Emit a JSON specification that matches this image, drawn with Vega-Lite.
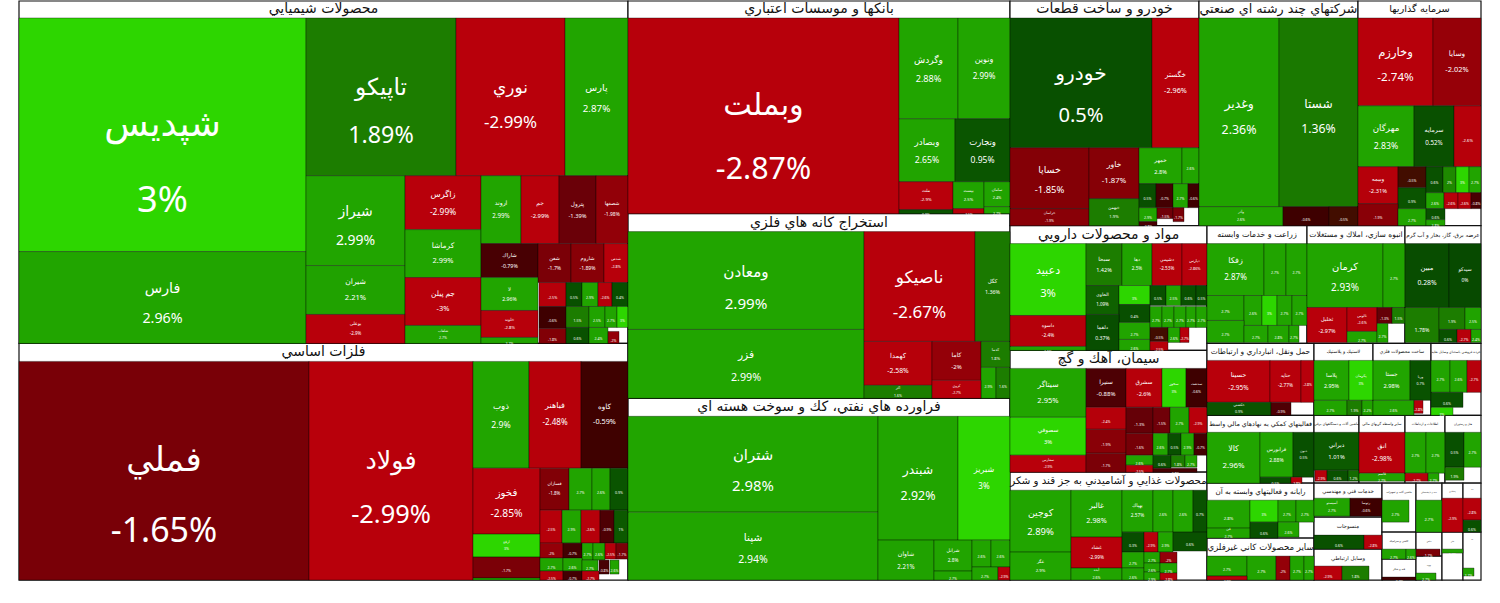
{
"$schema":"https://vega.github.io/schema/vega-lite/v6.json",
"width":1500,"height":603,
"autosize":{"type":"fit","contains":"padding"},
"padding":0,
"background":"#ffffff",
"config":{"view":{"stroke":null}},
"datasets":{
"panels":[
{"t":"محصولات شيميايي","x0":19,"x1":628,"y0":0,"yh":17,"y1":343},
{"t":"فلزات اساسي","x0":19,"x1":628,"y0":343,"yh":361,"y1":580},
{"t":"بانكها و موسسات اعتباري","x0":628,"x1":1010,"y0":0,"yh":17,"y1":213},
{"t":"استخراج كانه هاي فلزي","x0":628,"x1":1010,"y0":213,"yh":231,"y1":398},
{"t":"فراورده هاي نفتي، كك و سوخت هسته اي","x0":628,"x1":1010,"y0":398,"yh":416,"y1":580},
{"t":"خودرو و ساخت قطعات","x0":1010,"x1":1199,"y0":0,"yh":17,"y1":225},
{"t":"شركتهاي چند رشته اي صنعتي","x0":1199,"x1":1358,"y0":0,"yh":17,"y1":225},
{"t":"سرمايه گذاريها","x0":1358,"x1":1481,"y0":0,"yh":17,"y1":225},
{"t":"مواد و محصولات دارويي","x0":1010,"x1":1207,"y0":225,"yh":243,"y1":350},
{"t":"سيمان، آهك و گچ","x0":1010,"x1":1207,"y0":350,"yh":368,"y1":472},
{"t":"محصولات غذايي و آشاميدني به جز قند و شكر","x0":1010,"x1":1207,"y0":472,"yh":490,"y1":580},
{"t":"زراعت و خدمات وابسته","x0":1207,"x1":1307,"y0":225,"yh":243,"y1":343},
{"t":"انبوه سازي، املاك و مستغلات","x0":1307,"x1":1405,"y0":225,"yh":243,"y1":343},
{"t":"عرضه برق، گاز، بخار و آب گرم","x0":1405,"x1":1481,"y0":225,"yh":243,"y1":343},
{"t":"حمل ونقل، انبارداري و ارتباطات","x0":1207,"x1":1314,"y0":343,"yh":360,"y1":415},
{"t":"لاستيك و پلاستيك","x0":1314,"x1":1373,"y0":343,"yh":360,"y1":415},
{"t":"ساخت محصولات فلزي","x0":1373,"x1":1431,"y0":343,"yh":360,"y1":415},
{"t":"خرده فروشي باستثناي وسايل نقليه","x0":1431,"x1":1481,"y0":343,"yh":360,"y1":415},
{"t":"فعاليتهاي كمكي به نهادهاي مالي واسط","x0":1207,"x1":1314,"y0":415,"yh":432,"y1":483},
{"t":"ماشين آلات و دستگاههاي برقي","x0":1314,"x1":1359,"y0":415,"yh":432,"y1":483},
{"t":"ساير واسطه گريهاي مالي","x0":1359,"x1":1405,"y0":415,"yh":432,"y1":483},
{"t":"اطلاعات و ارتباطات","x0":1405,"x1":1445,"y0":415,"yh":432,"y1":483},
{"t":"هتل و رستوران","x0":1445,"x1":1481,"y0":415,"yh":432,"y1":483},
{"t":"رايانه و فعاليتهاي وابسته به آن","x0":1207,"x1":1314,"y0":483,"yh":500,"y1":538},
{"t":"ساير محصولات كاني غيرفلزي","x0":1207,"x1":1314,"y0":538,"yh":556,"y1":580},
{"t":"خدمات فني و مهندسي","x0":1314,"x1":1382,"y0":483,"yh":498,"y1":517},
{"t":"منسوجات","x0":1314,"x1":1382,"y0":517,"yh":535,"y1":549},
{"t":"وسايل ارتباطي","x0":1314,"x1":1382,"y0":549,"yh":566,"y1":580},
{"t":"ماشين آلات و تجهيزات","x0":1382,"x1":1416,"y0":483,"yh":500,"y1":532},
{"t":"كاشي و سراميك","x0":1382,"x1":1416,"y0":532,"yh":549,"y1":559},
{"t":"قند و شكر","x0":1382,"x1":1416,"y0":559,"yh":577,"y1":580},
{"t":"بيمه و بازنشستگي","x0":1416,"x1":1442,"y0":483,"yh":500,"y1":532},
{"t":"دباغي","x0":1416,"x1":1442,"y0":532,"yh":549,"y1":556},
{"t":"چوب","x0":1416,"x1":1442,"y0":556,"yh":573,"y1":580},
{"t":"پيمانكاري","x0":1442,"x1":1463,"y0":483,"yh":498,"y1":532},
{"t":"مالي","x0":1442,"x1":1463,"y0":532,"yh":549,"y1":580},
{"t":"كاغذ","x0":1463,"x1":1481,"y0":483,"yh":498,"y1":532},
{"t":"نشر","x0":1463,"x1":1481,"y0":532,"yh":549,"y1":580}
],
"cells":[
{"n":"شپديس","p":3,"x0":19,"x1":306,"y0":17,"y1":251},
{"n":"فارس","p":2.96,"x0":19,"x1":306,"y0":251,"y1":343},
{"n":"تاپيكو","p":1.89,"x0":306,"x1":456,"y0":17,"y1":175},
{"n":"نوري","p":-2.99,"x0":456,"x1":565,"y0":17,"y1":175},
{"n":"پارس","p":2.87,"x0":565,"x1":628,"y0":17,"y1":175},
{"n":"شيراز","p":2.99,"x0":306,"x1":405,"y0":175,"y1":265},
{"n":"شيران","p":2.21,"x0":306,"x1":405,"y0":265,"y1":314},
{"n":"بوعلي","p":-2.9,"x0":306,"x1":405,"y0":314,"y1":343},
{"n":"زاگرس","p":-2.99,"x0":405,"x1":481,"y0":175,"y1":229},
{"n":"كرماشا","p":2.99,"x0":405,"x1":481,"y0":229,"y1":277},
{"n":"جم پيلن","p":-3,"x0":405,"x1":481,"y0":277,"y1":325},
{"n":"شلعاب","p":2.7,"x0":405,"x1":481,"y0":325,"y1":343},
{"n":"اروند","p":2.99,"x0":481,"x1":521,"y0":175,"y1":243},
{"n":"جم","p":-2.99,"x0":521,"x1":559,"y0":175,"y1":243},
{"n":"پترول","p":-1.39,"x0":559,"x1":596,"y0":175,"y1":243},
{"n":"شصفها","p":-1.98,"x0":596,"x1":628,"y0":175,"y1":243},
{"n":"شاراك","p":-0.79,"x0":481,"x1":538,"y0":243,"y1":277},
{"n":"شفن","p":-1.7,"x0":538,"x1":571,"y0":243,"y1":282},
{"n":"شاروم","p":-1.89,"x0":571,"x1":604,"y0":243,"y1":282},
{"n":"شدص","p":-2.8,"x0":604,"x1":628,"y0":243,"y1":282},
{"n":"لا","p":2.96,"x0":481,"x1":538,"y0":277,"y1":310},
{"n":"خلوند","p":-2.8,"x0":481,"x1":538,"y0":310,"y1":337},
{"n":"","p":2.7,"x0":481,"x1":538,"y0":337,"y1":343},
{"n":"","p":-2.5,"x0":539,"x1":566,"y0":282,"y1":306},
{"n":"","p":0.5,"x0":566,"x1":582,"y0":282,"y1":306},
{"n":"","p":2.9,"x0":582,"x1":598,"y0":282,"y1":306},
{"n":"","p":-2.6,"x0":598,"x1":612,"y0":282,"y1":306},
{"n":"","p":0.4,"x0":612,"x1":628,"y0":282,"y1":306},
{"n":"","p":-0.6,"x0":539,"x1":566,"y0":306,"y1":328},
{"n":"","p":-1.8,"x0":539,"x1":566,"y0":328,"y1":343},
{"n":"","p":1.5,"x0":566,"x1":589,"y0":306,"y1":327},
{"n":"","p":2.5,"x0":589,"x1":605,"y0":306,"y1":327},
{"n":"","p":2.7,"x0":605,"x1":617,"y0":306,"y1":327},
{"n":"","p":3,"x0":617,"x1":628,"y0":306,"y1":327},
{"n":"","p":0.6,"x0":566,"x1":589,"y0":327,"y1":343},
{"n":"","p":2.4,"x0":589,"x1":608,"y0":327,"y1":343},
{"n":"","p":-2,"x0":608,"x1":619,"y0":331,"y1":343},
{"n":"فملي","p":-1.65,"x0":19,"x1":309,"y0":361,"y1":580},
{"n":"فولاد","p":-2.99,"x0":309,"x1":473,"y0":361,"y1":580},
{"n":"ذوب","p":2.9,"x0":473,"x1":529,"y0":361,"y1":468},
{"n":"فباهنر","p":-2.48,"x0":529,"x1":581,"y0":361,"y1":468},
{"n":"كاوه","p":-0.59,"x0":581,"x1":628,"y0":361,"y1":468},
{"n":"فخوز","p":-2.85,"x0":473,"x1":540,"y0":468,"y1":534},
{"n":"ارفع","p":3,"x0":473,"x1":540,"y0":534,"y1":557},
{"n":"","p":-1.7,"x0":473,"x1":540,"y0":557,"y1":578},
{"n":"","p":2.7,"x0":473,"x1":540,"y0":578,"y1":580},
{"n":"فسازان","p":-1.8,"x0":540,"x1":569,"y0":468,"y1":510},
{"n":"","p":2.7,"x0":569,"x1":592,"y0":468,"y1":510},
{"n":"","p":2.6,"x0":592,"x1":610,"y0":468,"y1":510},
{"n":"","p":0.9,"x0":610,"x1":628,"y0":468,"y1":510},
{"n":"","p":-2.5,"x0":540,"x1":562,"y0":510,"y1":543},
{"n":"","p":2.9,"x0":562,"x1":581,"y0":510,"y1":543},
{"n":"","p":-2.6,"x0":581,"x1":600,"y0":510,"y1":543},
{"n":"","p":-0.9,"x0":600,"x1":614,"y0":510,"y1":543},
{"n":"","p":1,"x0":614,"x1":628,"y0":510,"y1":543},
{"n":"","p":-2,"x0":540,"x1":563,"y0":543,"y1":558},
{"n":"","p":-0.7,"x0":563,"x1":582,"y0":543,"y1":558},
{"n":"","p":2.7,"x0":582,"x1":593,"y0":543,"y1":560},
{"n":"","p":2.6,"x0":593,"x1":605,"y0":543,"y1":560},
{"n":"","p":-2.5,"x0":605,"x1":616,"y0":543,"y1":559},
{"n":"","p":-1.7,"x0":616,"x1":628,"y0":543,"y1":559},
{"n":"","p":2.7,"x0":540,"x1":563,"y0":558,"y1":571},
{"n":"","p":2.6,"x0":563,"x1":582,"y0":558,"y1":571},
{"n":"","p":2.7,"x0":582,"x1":598,"y0":560,"y1":571},
{"n":"","p":-0.8,"x0":599,"x1":609,"y0":560,"y1":574},
{"n":"","p":2.6,"x0":610,"x1":619,"y0":560,"y1":574},
{"n":"","p":-2.5,"x0":540,"x1":563,"y0":571,"y1":580},
{"n":"","p":-0.7,"x0":563,"x1":582,"y0":571,"y1":580},
{"n":"","p":-2.7,"x0":582,"x1":599,"y0":571,"y1":580},
{"n":"وبملت","p":-2.87,"x0":628,"x1":899,"y0":17,"y1":213},
{"n":"وگردش","p":2.88,"x0":899,"x1":958,"y0":17,"y1":118},
{"n":"ونوين","p":2.99,"x0":958,"x1":1010,"y0":17,"y1":118},
{"n":"وبصادر","p":2.65,"x0":899,"x1":955,"y0":118,"y1":181},
{"n":"وتجارت","p":0.95,"x0":955,"x1":1010,"y0":118,"y1":181},
{"n":"ملت","p":-2.9,"x0":899,"x1":953,"y0":181,"y1":209},
{"n":"بپست","p":2.5,"x0":953,"x1":984,"y0":181,"y1":208},
{"n":"سامان","p":2.4,"x0":984,"x1":1010,"y0":181,"y1":206},
{"n":"","p":0.9,"x0":899,"x1":953,"y0":209,"y1":213},
{"n":"","p":-2.5,"x0":953,"x1":984,"y0":208,"y1":213},
{"n":"","p":2.7,"x0":984,"x1":1010,"y0":206,"y1":213},
{"n":"ومعادن","p":2.99,"x0":628,"x1":864,"y0":231,"y1":329},
{"n":"فزر","p":2.99,"x0":628,"x1":864,"y0":329,"y1":398},
{"n":"ناصيكو","p":-2.67,"x0":864,"x1":975,"y0":231,"y1":341},
{"n":"كگل","p":1.36,"x0":975,"x1":1010,"y0":231,"y1":341},
{"n":"كهمدا","p":-2.58,"x0":864,"x1":932,"y0":341,"y1":385},
{"n":"كاما","p":-2,"x0":932,"x1":981,"y0":341,"y1":380},
{"n":"كدما","p":1.8,"x0":981,"x1":1010,"y0":341,"y1":367},
{"n":"","p":2.9,"x0":981,"x1":996,"y0":367,"y1":398},
{"n":"","p":1.6,"x0":996,"x1":1010,"y0":367,"y1":398},
{"n":"اكر","p":1.6,"x0":864,"x1":932,"y0":385,"y1":398},
{"n":"كروي","p":-2.7,"x0":932,"x1":981,"y0":380,"y1":398},
{"n":"شتران","p":2.98,"x0":628,"x1":878,"y0":416,"y1":512},
{"n":"شپنا","p":2.94,"x0":628,"x1":878,"y0":512,"y1":580},
{"n":"شبندر","p":2.92,"x0":878,"x1":958,"y0":416,"y1":540},
{"n":"شبريز","p":3,"x0":958,"x1":1010,"y0":416,"y1":540},
{"n":"شاوان","p":2.21,"x0":878,"x1":934,"y0":540,"y1":580},
{"n":"شرانل","p":2.8,"x0":934,"x1":972,"y0":540,"y1":571},
{"n":"","p":2.7,"x0":934,"x1":972,"y0":571,"y1":580},
{"n":"","p":2.6,"x0":972,"x1":991,"y0":540,"y1":567},
{"n":"","p":2.6,"x0":991,"x1":1010,"y0":540,"y1":567},
{"n":"","p":2.7,"x0":972,"x1":998,"y0":567,"y1":580},
{"n":"","p":-2.9,"x0":998,"x1":1010,"y0":567,"y1":580},
{"n":"خودرو","p":0.5,"x0":1010,"x1":1152,"y0":17,"y1":147},
{"n":"خگستر","p":-2.96,"x0":1152,"x1":1199,"y0":17,"y1":147},
{"n":"خساپا","p":-1.85,"x0":1010,"x1":1089,"y0":147,"y1":208},
{"n":"خاور","p":-1.87,"x0":1089,"x1":1139,"y0":147,"y1":198},
{"n":"خراسان","p":-1.9,"x0":1010,"x1":1089,"y0":208,"y1":225},
{"n":"خبهمن","p":1.9,"x0":1089,"x1":1139,"y0":198,"y1":225},
{"n":"خمهر","p":2.8,"x0":1139,"x1":1182,"y0":147,"y1":183},
{"n":"","p":2.6,"x0":1182,"x1":1199,"y0":147,"y1":183},
{"n":"","p":0.5,"x0":1139,"x1":1156,"y0":183,"y1":207},
{"n":"","p":-0.7,"x0":1156,"x1":1173,"y0":183,"y1":207},
{"n":"","p":2.7,"x0":1173,"x1":1188,"y0":183,"y1":207},
{"n":"","p":-0.6,"x0":1188,"x1":1199,"y0":183,"y1":207},
{"n":"","p":2.9,"x0":1139,"x1":1157,"y0":207,"y1":221},
{"n":"","p":-1.5,"x0":1157,"x1":1173,"y0":207,"y1":218},
{"n":"","p":-1.7,"x0":1173,"x1":1184,"y0":207,"y1":221},
{"n":"","p":-0.8,"x0":1139,"x1":1157,"y0":221,"y1":225},
{"n":"وغدير","p":2.36,"x0":1199,"x1":1279,"y0":17,"y1":206},
{"n":"شستا","p":1.36,"x0":1279,"x1":1358,"y0":17,"y1":206},
{"n":"وآذر","p":2.6,"x0":1199,"x1":1283,"y0":206,"y1":225},
{"n":"","p":-0.6,"x0":1283,"x1":1329,"y0":206,"y1":225},
{"n":"","p":-0.5,"x0":1329,"x1":1358,"y0":206,"y1":225},
{"n":"وخارزم","p":-2.74,"x0":1358,"x1":1433,"y0":17,"y1":105},
{"n":"وسايا","p":-2.02,"x0":1433,"x1":1481,"y0":17,"y1":105},
{"n":"مهرگان","p":2.83,"x0":1358,"x1":1414,"y0":105,"y1":166},
{"n":"سرمايه","p":0.52,"x0":1414,"x1":1454,"y0":105,"y1":166},
{"n":"","p":-2.6,"x0":1454,"x1":1481,"y0":105,"y1":166},
{"n":"وبيمه","p":-2.31,"x0":1358,"x1":1398,"y0":166,"y1":203},
{"n":"","p":-0.5,"x0":1398,"x1":1426,"y0":166,"y1":187},
{"n":"","p":0.9,"x0":1398,"x1":1426,"y0":187,"y1":208},
{"n":"","p":0.6,"x0":1426,"x1":1443,"y0":166,"y1":192},
{"n":"","p":2,"x0":1443,"x1":1456,"y0":166,"y1":192},
{"n":"","p":3,"x0":1456,"x1":1469,"y0":166,"y1":192},
{"n":"","p":2.7,"x0":1469,"x1":1481,"y0":166,"y1":192},
{"n":"","p":2.6,"x0":1426,"x1":1444,"y0":192,"y1":208},
{"n":"","p":-2.6,"x0":1444,"x1":1458,"y0":192,"y1":208},
{"n":"","p":-2.6,"x0":1458,"x1":1471,"y0":192,"y1":208},
{"n":"","p":-0.8,"x0":1471,"x1":1481,"y0":192,"y1":208},
{"n":"","p":-1.9,"x0":1358,"x1":1398,"y0":203,"y1":225},
{"n":"","p":2.7,"x0":1398,"x1":1426,"y0":208,"y1":225},
{"n":"","p":0.6,"x0":1426,"x1":1445,"y0":208,"y1":219},
{"n":"","p":2.8,"x0":1426,"x1":1445,"y0":219,"y1":225},
{"n":"دعبيد","p":3,"x0":1010,"x1":1086,"y0":243,"y1":315},
{"n":"داسوه","p":-2.4,"x0":1010,"x1":1086,"y0":315,"y1":346},
{"n":"","p":2.6,"x0":1010,"x1":1086,"y0":346,"y1":350},
{"n":"سبحا","p":1.42,"x0":1086,"x1":1122,"y0":243,"y1":285},
{"n":"دها","p":2.5,"x0":1122,"x1":1152,"y0":243,"y1":285},
{"n":"دشيمي","p":-2.53,"x0":1152,"x1":1182,"y0":243,"y1":285},
{"n":"دپارس","p":-2.86,"x0":1182,"x1":1207,"y0":243,"y1":285},
{"n":"الحاوي","p":1.09,"x0":1086,"x1":1119,"y0":285,"y1":314},
{"n":"","p":3,"x0":1119,"x1":1150,"y0":285,"y1":304},
{"n":"","p":0.5,"x0":1150,"x1":1166,"y0":285,"y1":305},
{"n":"","p":2.5,"x0":1166,"x1":1181,"y0":285,"y1":305},
{"n":"","p":0.6,"x0":1181,"x1":1196,"y0":285,"y1":305},
{"n":"","p":0.5,"x0":1196,"x1":1207,"y0":285,"y1":305},
{"n":"","p":0.4,"x0":1119,"x1":1150,"y0":304,"y1":322},
{"n":"دلقما","p":0.37,"x0":1086,"x1":1119,"y0":314,"y1":350},
{"n":"","p":2.7,"x0":1119,"x1":1150,"y0":322,"y1":339},
{"n":"","p":2.6,"x0":1119,"x1":1150,"y0":339,"y1":350},
{"n":"","p":2.7,"x0":1150,"x1":1162,"y0":306,"y1":327},
{"n":"","p":2.7,"x0":1162,"x1":1174,"y0":306,"y1":327},
{"n":"","p":2.7,"x0":1174,"x1":1186,"y0":306,"y1":327},
{"n":"","p":2.7,"x0":1186,"x1":1196,"y0":306,"y1":327},
{"n":"","p":2.7,"x0":1196,"x1":1207,"y0":306,"y1":327},
{"n":"","p":-0.5,"x0":1150,"x1":1168,"y0":327,"y1":341},
{"n":"","p":2.6,"x0":1168,"x1":1180,"y0":327,"y1":342},
{"n":"","p":-2.7,"x0":1180,"x1":1189,"y0":327,"y1":342},
{"n":"","p":-2.5,"x0":1150,"x1":1168,"y0":341,"y1":350},
{"n":"سيتاگر","p":2.95,"x0":1010,"x1":1086,"y0":368,"y1":417},
{"n":"سصوفي","p":3,"x0":1010,"x1":1086,"y0":417,"y1":455},
{"n":"سفارس","p":-2.9,"x0":1010,"x1":1086,"y0":455,"y1":472},
{"n":"سنيرا","p":-0.88,"x0":1086,"x1":1126,"y0":368,"y1":407},
{"n":"سشرق","p":-2.6,"x0":1126,"x1":1162,"y0":368,"y1":407},
{"n":"سخوز","p":3,"x0":1162,"x1":1186,"y0":368,"y1":407},
{"n":"سدشت","p":-0.6,"x0":1186,"x1":1207,"y0":368,"y1":407},
{"n":"","p":-2.4,"x0":1086,"x1":1126,"y0":407,"y1":429},
{"n":"","p":-1.9,"x0":1086,"x1":1126,"y0":429,"y1":453},
{"n":"","p":-1.7,"x0":1086,"x1":1126,"y0":453,"y1":472},
{"n":"","p":-1.3,"x0":1126,"x1":1153,"y0":407,"y1":433},
{"n":"","p":-1.5,"x0":1153,"x1":1170,"y0":407,"y1":433},
{"n":"","p":2.7,"x0":1170,"x1":1189,"y0":407,"y1":433},
{"n":"","p":-2.9,"x0":1189,"x1":1207,"y0":407,"y1":433},
{"n":"","p":-1.6,"x0":1126,"x1":1153,"y0":433,"y1":455},
{"n":"","p":2.6,"x0":1153,"x1":1168,"y0":433,"y1":455},
{"n":"","p":0.5,"x0":1168,"x1":1181,"y0":433,"y1":455},
{"n":"","p":2.9,"x0":1181,"x1":1194,"y0":433,"y1":455},
{"n":"","p":-0.7,"x0":1194,"x1":1207,"y0":433,"y1":455},
{"n":"","p":2.6,"x0":1126,"x1":1153,"y0":455,"y1":465},
{"n":"","p":-2.5,"x0":1126,"x1":1153,"y0":465,"y1":472},
{"n":"","p":0.6,"x0":1153,"x1":1171,"y0":455,"y1":468},
{"n":"","p":1.8,"x0":1171,"x1":1185,"y0":455,"y1":467},
{"n":"","p":2.7,"x0":1185,"x1":1197,"y0":455,"y1":467},
{"n":"","p":-0.8,"x0":1153,"x1":1197,"y0":468,"y1":472},
{"n":"كوچين","p":2.89,"x0":1010,"x1":1071,"y0":490,"y1":552},
{"n":"غگر","p":2.9,"x0":1010,"x1":1071,"y0":552,"y1":580},
{"n":"غالبر","p":2.98,"x0":1071,"x1":1122,"y0":490,"y1":537},
{"n":"غشاد","p":-2.99,"x0":1071,"x1":1122,"y0":537,"y1":568},
{"n":"آبده","p":2.6,"x0":1071,"x1":1122,"y0":568,"y1":580},
{"n":"بهپاك","p":2.57,"x0":1122,"x1":1153,"y0":490,"y1":532},
{"n":"","p":2.6,"x0":1153,"x1":1173,"y0":490,"y1":532},
{"n":"","p":2.6,"x0":1173,"x1":1193,"y0":490,"y1":532},
{"n":"","p":0.7,"x0":1193,"x1":1207,"y0":490,"y1":532},
{"n":"","p":0.3,"x0":1122,"x1":1144,"y0":532,"y1":552},
{"n":"","p":-2.9,"x0":1144,"x1":1158,"y0":532,"y1":552},
{"n":"","p":2.9,"x0":1158,"x1":1173,"y0":532,"y1":552},
{"n":"","p":0.6,"x0":1173,"x1":1207,"y0":532,"y1":551},
{"n":"","p":2.7,"x0":1122,"x1":1144,"y0":552,"y1":568},
{"n":"","p":2.7,"x0":1144,"x1":1160,"y0":552,"y1":563},
{"n":"","p":-2,"x0":1160,"x1":1177,"y0":552,"y1":563},
{"n":"","p":2.6,"x0":1122,"x1":1144,"y0":568,"y1":580},
{"n":"","p":2.6,"x0":1144,"x1":1160,"y0":563,"y1":572},
{"n":"","p":2.7,"x0":1160,"x1":1177,"y0":563,"y1":573},
{"n":"","p":2.9,"x0":1144,"x1":1160,"y0":572,"y1":580},
{"n":"","p":-2.8,"x0":1160,"x1":1177,"y0":573,"y1":580},
{"n":"زفكا","p":2.87,"x0":1207,"x1":1264,"y0":243,"y1":295},
{"n":"","p":2.7,"x0":1264,"x1":1286,"y0":243,"y1":295},
{"n":"","p":2.7,"x0":1286,"x1":1307,"y0":243,"y1":295},
{"n":"","p":2.7,"x0":1207,"x1":1244,"y0":295,"y1":320},
{"n":"","p":2.6,"x0":1244,"x1":1262,"y0":295,"y1":325},
{"n":"","p":3,"x0":1262,"x1":1277,"y0":295,"y1":325},
{"n":"","p":2.7,"x0":1277,"x1":1292,"y0":295,"y1":325},
{"n":"","p":2.7,"x0":1292,"x1":1307,"y0":295,"y1":325},
{"n":"","p":2.7,"x0":1207,"x1":1244,"y0":320,"y1":342},
{"n":"","p":2.7,"x0":1244,"x1":1268,"y0":325,"y1":342},
{"n":"","p":2.8,"x0":1268,"x1":1289,"y0":325,"y1":342},
{"n":"","p":2.7,"x0":1289,"x1":1299,"y0":325,"y1":342},
{"n":"كرمان","p":2.93,"x0":1307,"x1":1383,"y0":243,"y1":307},
{"n":"","p":2.7,"x0":1383,"x1":1405,"y0":243,"y1":307},
{"n":"ثخليل","p":-2.97,"x0":1307,"x1":1347,"y0":307,"y1":342},
{"n":"ثالوس","p":-2.6,"x0":1347,"x1":1377,"y0":307,"y1":331},
{"n":"","p":2.7,"x0":1347,"x1":1377,"y0":331,"y1":342},
{"n":"","p":-1.3,"x0":1377,"x1":1392,"y0":307,"y1":323},
{"n":"","p":1.5,"x0":1392,"x1":1405,"y0":307,"y1":323},
{"n":"","p":2.7,"x0":1377,"x1":1388,"y0":323,"y1":342},
{"n":"مبين","p":0.28,"x0":1405,"x1":1449,"y0":243,"y1":307},
{"n":"سيدكو","p":0,"x0":1449,"x1":1481,"y0":243,"y1":307},
{"n":"","p":1.78,"x0":1405,"x1":1439,"y0":307,"y1":342},
{"n":"","p":1.9,"x0":1439,"x1":1465,"y0":307,"y1":329},
{"n":"","p":2.5,"x0":1465,"x1":1481,"y0":307,"y1":329},
{"n":"","p":0.6,"x0":1439,"x1":1457,"y0":329,"y1":342},
{"n":"","p":-2.7,"x0":1457,"x1":1471,"y0":329,"y1":342},
{"n":"","p":2.4,"x0":1471,"x1":1481,"y0":329,"y1":342},
{"n":"حسينا","p":-2.95,"x0":1207,"x1":1270,"y0":360,"y1":402},
{"n":"حتايد","p":-2.77,"x0":1270,"x1":1301,"y0":360,"y1":402},
{"n":"","p":-2.8,"x0":1301,"x1":1314,"y0":360,"y1":402},
{"n":"حكشتي","p":0.9,"x0":1207,"x1":1271,"y0":402,"y1":415},
{"n":"","p":-0.9,"x0":1271,"x1":1291,"y0":402,"y1":415},
{"n":"پلاسا","p":2.95,"x0":1314,"x1":1349,"y0":360,"y1":400},
{"n":"پكرمان","p":3,"x0":1349,"x1":1373,"y0":360,"y1":400},
{"n":"","p":2.7,"x0":1314,"x1":1347,"y0":400,"y1":415},
{"n":"","p":1.9,"x0":1347,"x1":1362,"y0":400,"y1":415},
{"n":"","p":2.2,"x0":1362,"x1":1373,"y0":400,"y1":415},
{"n":"جستا","p":2.98,"x0":1373,"x1":1410,"y0":360,"y1":400},
{"n":"ورنا","p":0.7,"x0":1410,"x1":1431,"y0":360,"y1":400},
{"n":"","p":2.6,"x0":1373,"x1":1414,"y0":400,"y1":415},
{"n":"","p":-2.8,"x0":1414,"x1":1423,"y0":400,"y1":413},
{"n":"","p":2.7,"x0":1431,"x1":1450,"y0":360,"y1":392},
{"n":"","p":2.6,"x0":1450,"x1":1467,"y0":360,"y1":392},
{"n":"","p":-2.7,"x0":1467,"x1":1481,"y0":360,"y1":392},
{"n":"","p":0.6,"x0":1431,"x1":1463,"y0":392,"y1":407},
{"n":"","p":3,"x0":1431,"x1":1453,"y0":407,"y1":415},
{"n":"كالا","p":2.96,"x0":1207,"x1":1260,"y0":432,"y1":483},
{"n":"فرابورس","p":2.88,"x0":1260,"x1":1293,"y0":432,"y1":477},
{"n":"دنون","p":0.5,"x0":1293,"x1":1314,"y0":432,"y1":477},
{"n":"","p":0.5,"x0":1260,"x1":1291,"y0":477,"y1":483},
{"n":"","p":-2.8,"x0":1291,"x1":1302,"y0":477,"y1":483},
{"n":"ديراني","p":1.01,"x0":1314,"x1":1359,"y0":432,"y1":470},
{"n":"","p":-2.9,"x0":1315,"x1":1327,"y0":470,"y1":481},
{"n":"","p":0.6,"x0":1327,"x1":1348,"y0":470,"y1":481},
{"n":"","p":1.2,"x0":1348,"x1":1359,"y0":470,"y1":481},
{"n":"اتق","p":-2.98,"x0":1359,"x1":1405,"y0":432,"y1":473},
{"n":"قاسم","p":2.7,"x0":1359,"x1":1405,"y0":473,"y1":481},
{"n":"","p":2.7,"x0":1405,"x1":1426,"y0":432,"y1":473},
{"n":"","p":2.7,"x0":1426,"x1":1445,"y0":432,"y1":473},
{"n":"","p":-2.7,"x0":1405,"x1":1428,"y0":473,"y1":481},
{"n":"","p":2.7,"x0":1428,"x1":1439,"y0":473,"y1":481},
{"n":"","p":0.5,"x0":1445,"x1":1464,"y0":432,"y1":467},
{"n":"","p":2.7,"x0":1464,"x1":1481,"y0":432,"y1":467},
{"n":"","p":1.9,"x0":1445,"x1":1464,"y0":467,"y1":480},
{"n":"","p":2.8,"x0":1207,"x1":1250,"y0":500,"y1":528},
{"n":"","p":3,"x0":1250,"x1":1278,"y0":500,"y1":522},
{"n":"","p":2.7,"x0":1278,"x1":1296,"y0":500,"y1":522},
{"n":"","p":2.7,"x0":1296,"x1":1314,"y0":500,"y1":522},
{"n":"فن","p":2.7,"x0":1207,"x1":1250,"y0":528,"y1":538},
{"n":"","p":0.6,"x0":1250,"x1":1278,"y0":522,"y1":538},
{"n":"","p":2.6,"x0":1278,"x1":1299,"y0":522,"y1":537},
{"n":"آسيستو","p":2.7,"x0":1314,"x1":1350,"y0":498,"y1":516},
{"n":"رتوسا","p":-0.6,"x0":1350,"x1":1382,"y0":498,"y1":516},
{"n":"","p":2.7,"x0":1382,"x1":1409,"y0":500,"y1":522},
{"n":"","p":2.7,"x0":1416,"x1":1442,"y0":500,"y1":532},
{"n":"","p":-2.9,"x0":1442,"x1":1463,"y0":498,"y1":532},
{"n":"","p":-2.8,"x0":1463,"x1":1481,"y0":498,"y1":520},
{"n":"","p":0.6,"x0":1463,"x1":1481,"y0":520,"y1":532},
{"n":"","p":0.6,"x0":1314,"x1":1364,"y0":535,"y1":549},
{"n":"","p":-2.8,"x0":1364,"x1":1382,"y0":535,"y1":549},
{"n":"","p":-2.9,"x0":1314,"x1":1342,"y0":566,"y1":580},
{"n":"","p":1.8,"x0":1342,"x1":1369,"y0":566,"y1":580},
{"n":"","p":2.7,"x0":1382,"x1":1406,"y0":549,"y1":559},
{"n":"","p":2.6,"x0":1406,"x1":1416,"y0":549,"y1":559},
{"n":"","p":-0.7,"x0":1382,"x1":1416,"y0":577,"y1":580},
{"n":"","p":-1.7,"x0":1416,"x1":1440,"y0":549,"y1":556},
{"n":"","p":2.7,"x0":1416,"x1":1436,"y0":573,"y1":580},
{"n":"","p":2.7,"x0":1442,"x1":1463,"y0":549,"y1":553},
{"n":"","p":2.7,"x0":1463,"x1":1474,"y0":568,"y1":576},
{"n":"","p":2.7,"x0":1207,"x1":1247,"y0":556,"y1":576},
{"n":"","p":2.7,"x0":1247,"x1":1276,"y0":556,"y1":580},
{"n":"","p":-2,"x0":1276,"x1":1290,"y0":556,"y1":580},
{"n":"","p":2.7,"x0":1290,"x1":1304,"y0":556,"y1":580},
{"n":"","p":2.7,"x0":1304,"x1":1314,"y0":556,"y1":580},
{"n":"","p":-2.9,"x0":1207,"x1":1247,"y0":576,"y1":580}
]
},
"layer":[
{"data":{"name":"panels"},
 "mark":{"type":"rect","fill":"#ffffff","stroke":"#111111","strokeWidth":1.2},
 "encoding":{
  "x":{"field":"x0","type":"quantitative","axis":null,"scale":{"domain":[0,1500],"nice":false,"zero":false}},
  "x2":{"field":"x1"},
  "y":{"field":"y0","type":"quantitative","axis":null,"scale":{"domain":[0,603],"reverse":true,"nice":false,"zero":false}},
  "y2":{"field":"y1"}}},
{"data":{"name":"cells"},
 "mark":{"type":"rect","stroke":"#000000","strokeOpacity":0.35,"strokeWidth":1},
 "encoding":{
  "x":{"field":"x0","type":"quantitative"},
  "x2":{"field":"x1"},
  "y":{"field":"y0","type":"quantitative"},
  "y2":{"field":"y1"},
  "color":{"field":"p","type":"quantitative","legend":null,"scale":{
   "domain":[-3,-2.3,-1.85,-0.6,0,0.95,1.4,1.9,2.2,2.99,3],
   "range":["#b8000b","#b5000a","#840006","#3e0000","#074a00","#0a5500","#1c7d00","#1c7d00","#20a200","#21a500","#2dd600"]}}}},
{"data":{"name":"cells"},
 "transform":[
  {"calculate":"max(3.5,0.155*min(datum.x1-datum.x0,datum.y1-datum.y0))","as":"fs"},
  {"calculate":"(datum.x0+datum.x1)/2","as":"cx"},
  {"calculate":"(datum.y0+datum.y1)/2+max(0,datum.fs-8)","as":"mid"},
  {"calculate":"datum.mid-1.05*datum.fs","as":"ny"}],
 "mark":{"type":"text","color":"#ffffff","font":"Noto Sans, DejaVu Sans","baseline":"middle","align":"center"},
 "encoding":{
  "x":{"field":"cx","type":"quantitative"},
  "y":{"field":"ny","type":"quantitative"},
  "text":{"field":"n"},
  "size":{"field":"fs","type":"quantitative","scale":null}}},
{"data":{"name":"cells"},
 "transform":[
  {"calculate":"max(3.5,0.155*min(datum.x1-datum.x0,datum.y1-datum.y0))","as":"fs"},
  {"calculate":"(datum.x0+datum.x1)/2","as":"cx"},
  {"calculate":"(datum.y0+datum.y1)/2+max(0,datum.fs-8)","as":"mid"},
  {"calculate":"datum.mid+1.05*datum.fs","as":"py"},
  {"calculate":"datum.p+'%'","as":"pct"}],
 "mark":{"type":"text","color":"#ffffff","font":"Noto Sans, DejaVu Sans","baseline":"middle","align":"center"},
 "encoding":{
  "x":{"field":"cx","type":"quantitative"},
  "y":{"field":"py","type":"quantitative"},
  "text":{"field":"pct"},
  "size":{"field":"fs","type":"quantitative","scale":null}}},
{"data":{"name":"panels"},
 "transform":[
  {"calculate":"min(14,0.08*(datum.x1-datum.x0),(datum.x1-datum.x0)/(length(datum.t)*0.48))","as":"fs"},
  {"calculate":"(datum.x0+datum.x1)/2","as":"cx"},
  {"calculate":"(datum.y0+datum.yh)/2","as":"cy"}],
 "mark":{"type":"text","color":"#111111","font":"DejaVu Sans","baseline":"middle","align":"center"},
 "encoding":{
  "x":{"field":"cx","type":"quantitative"},
  "y":{"field":"cy","type":"quantitative"},
  "text":{"field":"t"},
  "size":{"field":"fs","type":"quantitative","scale":null}}}
]
}
